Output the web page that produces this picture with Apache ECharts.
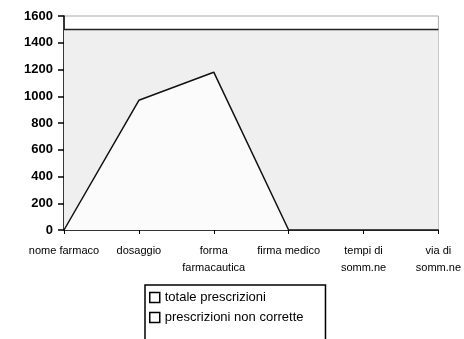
<!DOCTYPE html>
<html><head><meta charset="utf-8">
<script src="https://cdn.jsdelivr.net/npm/echarts@6/dist/echarts.min.js"></script>
<style>html,body{margin:0;padding:0;background:#fff}#c{width:464px;height:339px}</style>
</head><body><div id="c"></div>
<script>
const categories = ['nome farmaco','dosaggio','forma\nfarmacautica','firma medico','tempi di\nsomm.ne','via di\nsomm.ne'];
const totalePrescrizioni = [1500,1500,1500,1500,1500,1500];
const prescrizioniNonCorrette = [0,970,1180,0,0,0];
const yTicks = {min:0, max:1600, interval:200};

const chart = echarts.init(document.getElementById('c'));
chart.setOption({
  animation:false,
  grid:{left:64,right:19,top:16,bottom:109,show:true,borderColor:'#aaa',borderWidth:1,backgroundColor:'transparent'},
  xAxis:{type:'category',data:categories,boundaryGap:false,
    axisLine:{lineStyle:{color:'#000',width:1.5}},
    axisTick:{show:true,alignWithLabel:true,length:4,lineStyle:{color:'#000',width:1}},
    axisLabel:{color:'#000',fontFamily:'Liberation Sans, Arial',fontSize:11,margin:12,lineHeight:17,interval:0}},
  yAxis:{type:'value',min:yTicks.min,max:yTicks.max,interval:yTicks.interval,
    axisLine:{show:true,lineStyle:{color:'#000',width:1.5}},
    axisTick:{show:true,length:6,lineStyle:{color:'#000',width:1.5}},
    splitLine:{show:false},
    axisLabel:{color:'#000',fontFamily:'Liberation Sans, Arial',fontSize:13,fontWeight:'bold',margin:11,
      formatter:function(v){return String(v);}}},
  legend:{orient:'vertical',left:145,top:285,height:60,itemWidth:10,itemHeight:10,itemGap:7,
    borderColor:'#000',borderWidth:1.5,padding:[6,22,20,4],
    icon:'rect',
    itemStyle:{color:'#fff',borderColor:'#000',borderWidth:1.5},
    textStyle:{color:'#000',fontFamily:'Liberation Sans, Arial',fontSize:13},
    data:['totale prescrizioni','prescrizioni non corrette']},
  series:[
    {name:'totale prescrizioni',type:'line',data:totalePrescrizioni,symbol:'none',
      lineStyle:{color:'#222',width:1.5},areaStyle:{color:'#efefef',opacity:1},itemStyle:{color:'#efefef'}},
    {name:'prescrizioni non corrette',type:'line',data:prescrizioniNonCorrette,symbol:'none',
      lineStyle:{color:'#111',width:1.5},areaStyle:{color:'#fbfbfb',opacity:1},itemStyle:{color:'#fbfbfb'}}
  ]
});
</script></body></html>
